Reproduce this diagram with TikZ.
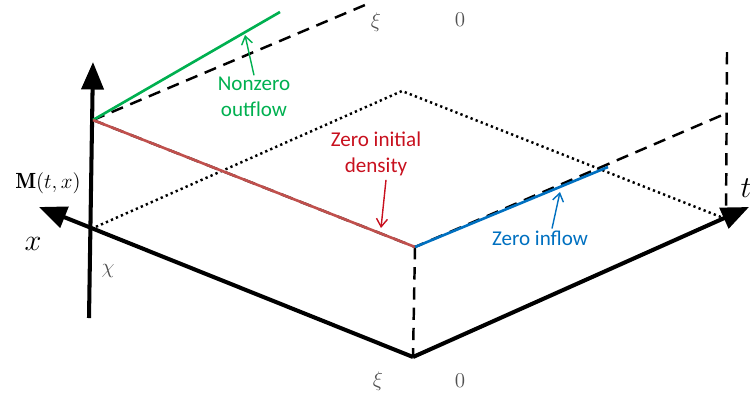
\documentclass[tikz,border=0pt]{standalone}
\usepackage{fontspec}
\newfontfamily\labelfont{Carlito}
\usepackage{xcolor}
\usetikzlibrary{arrows.meta}

\definecolor{outgreen}{RGB}{0,176,80}
\definecolor{initred}{RGB}{200,16,30}
\definecolor{initline}{RGB}{192,80,77}
\definecolor{inblue}{RGB}{0,112,192}
\definecolor{ticktext}{RGB}{80,80,80}

\begin{document}
\begin{tikzpicture}[
  x=0.02cm, y=-0.02cm,
  axis/.style={line width=2.3pt, -{Triangle[length=5.5mm, width=4.4mm]}},
  dashline/.style={line width=1.4pt, dash pattern=on 7pt off 4.5pt},
  dotline/.style={line width=1.4pt, dash pattern=on 1.3pt off 1.8pt},
  bndline/.style={line width=1.5pt},
  callout/.style={line width=0.8pt, -{Straight Barb[length=1.6mm, width=2.2mm]}},
  flowlabel/.style={font=\labelfont\fontsize{12}{14.5}\selectfont, align=center, inner sep=1pt},
  ticklabel/.style={text=ticktext, font=\fontsize{12.5}{14}\selectfont},
  axlabel/.style={font=\fontsize{19}{22}\selectfont}
]
\useasboundingbox (0,0) rectangle (750,397);

% base of the domain
\coordinate (O) at (413,357);
\coordinate (X0) at (91,229);
\coordinate (T0) at (726,219);
\coordinate (E) at (402,91);
% surface M(t,x)
\coordinate (A) at (93,120);
\coordinate (B) at (415,247);
\coordinate (D) at (727,113);
\coordinate (Atop) at (365,5);
\coordinate (Dtop) at (727,52);
\coordinate (G) at (280,12);
\coordinate (C) at (608,167);
% axis ends
\coordinate (Vbot) at (89,318);
\coordinate (Vtop) at (93,62);
\coordinate (Xend) at (39,207);
\coordinate (Tend) at (749,207);

\draw[dotline] (X0) -- (E) -- (T0);
\draw[dashline] (B) -- (O);
\draw[dashline] (A) -- (Atop);
\draw[dashline] (A) -- (B) -- (D);
\draw[dashline] (Dtop) -- (T0);

\draw[axis] (Vbot) -- (Vtop);
\draw[axis] (O) -- (Xend);
\draw[axis] (O) -- (Tend);

\draw[bndline, outgreen] (A) -- (G);
\draw[bndline, initline] (A) -- (B);
\draw[bndline, inblue] (B) -- (C);

% labels
\node[axlabel] (xlbl) at (33,244) {$x$};
\node[axlabel] (tlbl) at (746,188) {$t$};
\node[font=\fontsize{12.5}{14}\selectfont] (mlbl) at (48,183) {$\mathbf{M}(t,x)$};
\node[ticklabel] (chilbl) at (108,271) {$\chi$};
\node[ticklabel] (xitop) at (376,22) {$\xi$};
\node[ticklabel] (zerotop) at (460,20) {$0$};
\node[ticklabel] (xibot) at (378,381) {$\xi$};
\node[ticklabel] (zerobot) at (460,381) {$0$};

\node[flowlabel, text=outgreen] (outlbl) at (254,97) {Nonzero\\outflow};
\node[flowlabel, text=initred] (initlbl) at (376,154) {Zero initial\\density};
\node[flowlabel, text=inblue] (inlbl) at (540,238) {Zero inflow};

\coordinate (gtip) at (245,35);
\coordinate (rtip) at (381,228);
\coordinate (btip) at (560,192);
\draw[callout, outgreen] (outlbl.north) -- (gtip);
\draw[callout, initred] (initlbl.south) ++(10,2) -- (rtip);
\draw[callout, inblue] ([xshift=0.24cm]inlbl.north) -- (btip);
\end{tikzpicture}
\end{document}
